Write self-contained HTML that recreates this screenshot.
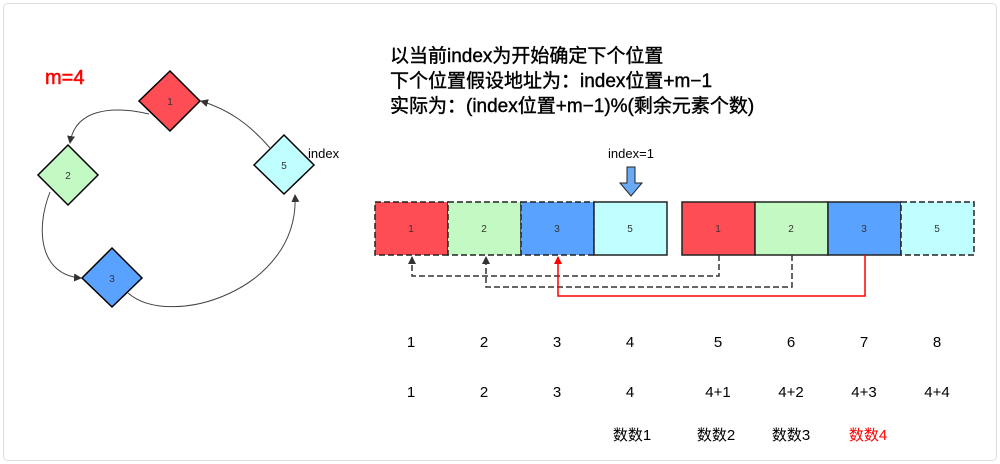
<!DOCTYPE html>
<html><head><meta charset="utf-8"><style>
body{margin:0;background:#fff;}
svg{display:block;font-family:"Liberation Sans","Noto Sans CJK SC",sans-serif;}
</style></head><body>
<svg width="1000" height="464" viewBox="0 0 1000 464">
<defs><marker id="a" markerWidth="8" markerHeight="8" refX="7" refY="4" orient="auto" markerUnits="userSpaceOnUse"><path d="M0,0L8,4L0,8z" fill="#333"/></marker>
<marker id="r" markerWidth="8" markerHeight="8" refX="7" refY="4" orient="auto" markerUnits="userSpaceOnUse"><path d="M0,0L8,4L0,8z" fill="#f00"/></marker></defs>
<rect x="3.5" y="3.5" width="993" height="457" rx="4" fill="#fff" stroke="#ddd"/>
<text x="45" y="84" font-size="20" fill="#f00" stroke="#f00" stroke-width="0.5">m=4</text>
<g fill="none" stroke="#444" stroke-width="1">
<path d="M149,114 C110,105 75,110 70,143" marker-end="url(#a)"/>
<path d="M50,192 C35,230 40,275 81,278" marker-end="url(#a)"/>
<path d="M128,293 C170,330 300,290 295,195" marker-end="url(#a)"/>
<path d="M270,148 C250,125 230,110 201,101" marker-end="url(#a)"/>
</g>
<g stroke="#000" stroke-width="1.5">
<path d="M170,71L200,101L170,131L139,101z" fill="#ff4d55"/>
<path d="M68,145L98,175L68,205L38,175z" fill="#c3f9c3"/>
<path d="M112,248L142,278L112,307L82,278z" fill="#5aa2ff"/>
<path d="M284,135L314,165L284,194L254,165z" fill="#c0ffff"/>
</g>
<g font-size="10" fill="#333" text-anchor="middle"><text x="170" y="105">1</text><text x="68" y="179">2</text><text x="112" y="282">3</text><text x="284" y="169">5</text></g>
<text x="308" y="158" font-size="13">index</text>
<g font-size="19" fill="#000" stroke="#000" stroke-width="0.4"><text x="390" y="62">以当前index为开始确定下个位置</text><text x="390" y="87">下个位置假设地址为：index位置+m−1</text><text x="390" y="112">实际为：(index位置+m−1)%(剩余元素个数)</text></g>
<text x="631" y="158" font-size="13" text-anchor="middle">index=1</text>
<path d="M627,167h8v16h7l-11,13l-11,-13h7z" fill="#6aaaf5" stroke="#222"/>
<g stroke="#222" stroke-width="1.5">
<rect x="375" y="202" width="73" height="53" fill="#ff4d55" stroke-dasharray="6,3"/>
<rect x="448" y="202" width="73" height="53" fill="#c3f9c3" stroke-dasharray="6,3"/>
<rect x="521" y="202" width="73" height="53" fill="#5aa2ff" stroke-dasharray="6,3"/>
<rect x="594" y="202" width="73" height="53" fill="#c0ffff"/>
<rect x="682" y="202" width="73" height="53" fill="#ff4d55"/>
<rect x="755" y="202" width="73" height="53" fill="#c3f9c3"/>
<rect x="828" y="202" width="73" height="53" fill="#5aa2ff"/>
<rect x="901" y="202" width="73" height="53" fill="#c0ffff" stroke-dasharray="6,3"/>
</g>
<g font-size="10" fill="#333" text-anchor="middle"><text x="411" y="232">1</text><text x="484" y="232">2</text><text x="557" y="232">3</text><text x="630" y="232">5</text><text x="718" y="232">1</text><text x="791" y="232">2</text><text x="864" y="232">3</text><text x="937" y="232">5</text></g>
<g fill="none" stroke="#333" stroke-width="1.5" stroke-dasharray="6,3">
<path d="M719,255V276H412V257" marker-end="url(#a)"/>
<path d="M792,255V287H486V257" marker-end="url(#a)"/>
</g>
<path d="M865,255V296H558V257" fill="none" stroke="#f00" stroke-width="1.5" marker-end="url(#r)"/>
<g font-size="15" fill="#000" text-anchor="middle">
<text x="411" y="347">1</text><text x="484" y="347">2</text><text x="557" y="347">3</text><text x="630" y="347">4</text><text x="718" y="347">5</text><text x="791" y="347">6</text><text x="864" y="347">7</text><text x="937" y="347">8</text>
<text x="411" y="397">1</text><text x="484" y="397">2</text><text x="557" y="397">3</text><text x="630" y="397">4</text><text x="718" y="397">4+1</text><text x="791" y="397">4+2</text><text x="864" y="397">4+3</text><text x="937" y="397">4+4</text>
<text x="632" y="440">数数1</text><text x="716" y="440">数数2</text><text x="791" y="440">数数3</text><text x="868" y="440" fill="#f00">数数4</text>
</g>
</svg>
</body></html>
